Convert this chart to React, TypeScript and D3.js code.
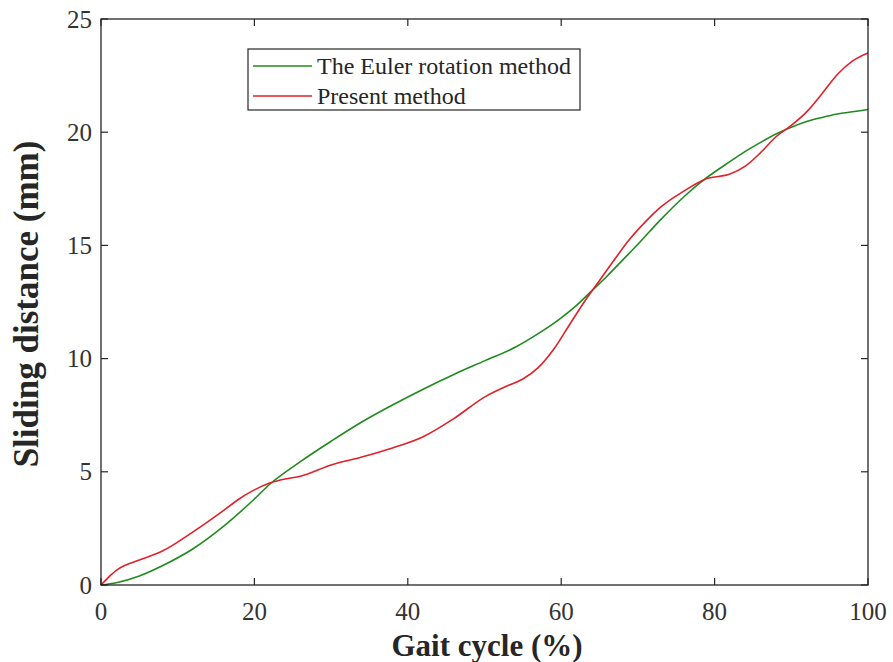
import React from "react";
import * as d3 from "d3";

// Gait cycle sampling points (%)
const eulerX = [0, 2, 5, 8, 12, 16, 20, 22, 26, 30, 34, 38, 42, 46, 50, 54, 57, 60, 62, 64, 66, 68, 70, 73, 76, 79, 82, 84, 86, 88, 90, 92, 94, 96, 98, 100];
// Sliding distance, Euler rotation method (mm)
const eulerY = [0, 0.1, 0.4, 0.85, 1.6, 2.6, 3.8, 4.45, 5.45, 6.35, 7.2, 7.95, 8.65, 9.3, 9.9, 10.5, 11.1, 11.8, 12.35, 13.0, 13.65, 14.35, 15.05, 16.15, 17.15, 18.0, 18.7, 19.15, 19.55, 19.92, 20.22, 20.47, 20.65, 20.8, 20.9, 21.0];

const presentX = [0, 1, 2, 3, 5, 8, 12, 16, 18, 20, 22, 24, 26, 30, 34, 38, 42, 46, 50, 53, 55, 57, 59, 61, 63, 65, 67, 69, 71, 73, 76, 79, 82, 84, 86, 88, 90, 92, 94, 96, 98, 100];
// Sliding distance, present method (mm)
const presentY = [0, 0.35, 0.65, 0.85, 1.1, 1.5, 2.35, 3.3, 3.8, 4.2, 4.5, 4.68, 4.8, 5.3, 5.65, 6.05, 6.55, 7.35, 8.3, 8.8, 9.1, 9.6, 10.4, 11.45, 12.5, 13.45, 14.4, 15.3, 16.05, 16.7, 17.4, 17.95, 18.15, 18.5, 19.1, 19.8, 20.3, 20.9, 21.7, 22.55, 23.15, 23.5];

const xTicks = [0, 20, 40, 60, 80, 100];
const yTicks = [0, 5, 10, 15, 20, 25];

const seriesNames = ["The Euler rotation method", "Present method"];
const seriesColors = ["#1f8a1f", "#e0202a"];

const W = 893;
const H = 662;
const M = { left: 101, right: 868, top: 19, bottom: 585 };
const FONT = "'Liberation Serif', 'DejaVu Serif', 'Times New Roman', serif";

export default function App() {
  const x = d3.scaleLinear().domain([0, 100]).range([M.left, M.right]);
  const y = d3.scaleLinear().domain([0, 25]).range([M.bottom, M.top]);

  const line = d3
    .line<[number, number]>()
    .x((d) => x(d[0]))
    .y((d) => y(d[1]))
    .curve(d3.curveMonotoneX);

  const eulerPts = eulerX.map((v, i) => [v, eulerY[i]] as [number, number]);
  const presentPts = presentX.map((v, i) => [v, presentY[i]] as [number, number]);

  const tick = 7;
  const axisColor = "#262626";

  return (
    <svg
      width={W}
      height={H}
      style={{ position: "absolute", left: 0, top: 0, background: "#fff", fontFamily: FONT }}
    >
      <rect x={0} y={0} width={W} height={H} fill="#fff" />
      {/* curves */}
      <path d={line(eulerPts) ?? ""} fill="none" stroke={seriesColors[0]} strokeWidth={1.6} />
      <path d={line(presentPts) ?? ""} fill="none" stroke={seriesColors[1]} strokeWidth={1.6} />

      {/* axes box */}
      <rect
        x={M.left}
        y={M.top}
        width={M.right - M.left}
        height={M.bottom - M.top}
        fill="none"
        stroke={axisColor}
        strokeWidth={1.3}
      />
      {xTicks.map((t) => (
        <g key={"x" + t}>
          <line x1={x(t)} x2={x(t)} y1={M.bottom} y2={M.bottom - tick} stroke={axisColor} strokeWidth={1.2} />
          <line x1={x(t)} x2={x(t)} y1={M.top} y2={M.top + tick} stroke={axisColor} strokeWidth={1.2} />
          <text x={x(t)} y={620} textAnchor="middle" fontSize={25} fill="#333" style={{ fontFamily: FONT }}>
            {t}
          </text>
        </g>
      ))}
      {yTicks.map((t) => (
        <g key={"y" + t}>
          <line x1={M.left} x2={M.left + tick} y1={y(t)} y2={y(t)} stroke={axisColor} strokeWidth={1.2} />
          <line x1={M.right} x2={M.right - tick} y1={y(t)} y2={y(t)} stroke={axisColor} strokeWidth={1.2} />
          <text x={92} y={y(t) + 8.5} textAnchor="end" fontSize={25} fill="#333" style={{ fontFamily: FONT }}>
            {t}
          </text>
        </g>
      ))}

      {/* axis titles */}
      <text
        x={487}
        y={656}
        textAnchor="middle"
        fontSize={31}
        fontWeight="bold"
        fill="#262626"
        style={{ fontFamily: FONT }}
      >
        Gait cycle (%)
      </text>
      <text
        transform="translate(38, 304) rotate(-90)"
        textAnchor="middle"
        fontSize={35}
        fontWeight="bold"
        fill="#262626"
        style={{ fontFamily: FONT }}
      >
        Sliding distance (mm)
      </text>

      {/* legend */}
      <g>
        <rect x={248} y={49} width={332} height={61} fill="#fff" stroke={axisColor} strokeWidth={1.2} />
        {seriesNames.map((name, i) => (
          <g key={name}>
            <line x1={253} x2={312} y1={66 + i * 30} y2={66 + i * 30} stroke={seriesColors[i]} strokeWidth={1.6} />
            <text x={317} y={74 + i * 30} fontSize={24} fill="#262626" style={{ fontFamily: FONT }}>
              {name}
            </text>
          </g>
        ))}
      </g>
    </svg>
  );
}
